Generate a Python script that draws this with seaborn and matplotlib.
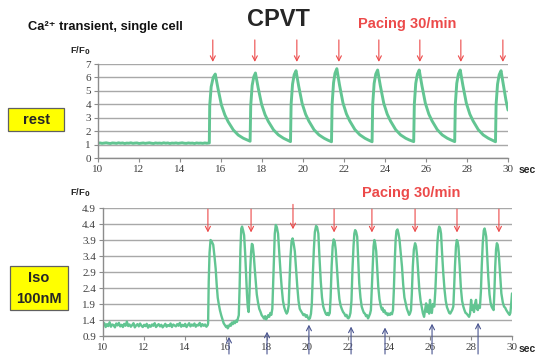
import numpy as np
import pandas as pd
import matplotlib
matplotlib.use("Agg")
import matplotlib.pyplot as plt
from matplotlib.patches import Rectangle
import seaborn as sns

# ---- data ----
# top panel (rest): baseline, then paced transients
top_base_v = [1.10, 1.12, 1.09, 1.11, 1.13, 1.10, 1.08, 1.12, 1.11, 1.09, 1.13, 1.10, 1.12, 1.08,
              1.11, 1.10, 1.13, 1.09, 1.11, 1.12, 1.08, 1.10, 1.12, 1.09, 1.11, 1.13, 1.10, 1.08,
              1.12, 1.10, 1.11, 1.09, 1.13, 1.10, 1.12, 1.08, 1.11, 1.10, 1.12, 1.09, 1.11, 1.13,
              1.10, 1.09, 1.12, 1.10, 1.11, 1.08, 1.12, 1.10, 1.11, 1.09, 1.12, 1.10, 1.11]
top_beats = [
    (15.43, 1.12), (15.45, 3.9), (15.52, 5.3), (15.62, 6.0), (15.72, 6.25), (15.85, 5.2),
    (16.02, 3.95), (16.19, 3.2), (16.35, 2.7), (16.6, 2.09), (16.84, 1.71), (17.09, 1.47),
    (17.27, 1.35), (17.42, 1.25),
    (17.45, 3.9), (17.52, 5.4), (17.6, 6.05), (17.68, 6.33), (17.81, 5.25), (17.98, 4.0),
    (18.15, 3.22), (18.31, 2.72), (18.56, 2.1), (18.8, 1.72), (19.05, 1.47), (19.23, 1.34),
    (19.39, 1.22),
    (19.42, 4.0), (19.49, 5.5), (19.57, 6.2), (19.66, 6.5), (19.79, 5.35), (19.96, 4.05),
    (20.13, 3.25), (20.29, 2.74), (20.54, 2.1), (20.78, 1.72), (21.03, 1.47), (21.21, 1.33),
    (21.39, 1.21),
    (21.42, 4.0), (21.49, 5.6), (21.56, 6.3), (21.65, 6.65), (21.78, 5.45), (21.95, 4.1),
    (22.12, 3.28), (22.28, 2.76), (22.53, 2.12), (22.77, 1.73), (23.02, 1.47), (23.2, 1.33),
    (23.37, 1.21),
    (23.4, 4.0), (23.47, 5.55), (23.55, 6.25), (23.64, 6.55), (23.77, 5.4), (23.94, 4.07),
    (24.11, 3.26), (24.27, 2.75), (24.52, 2.11), (24.76, 1.72), (25.01, 1.47), (25.19, 1.34),
    (25.4, 1.22),
    (25.43, 4.0), (25.5, 5.55), (25.58, 6.25), (25.67, 6.55), (25.8, 5.4), (25.97, 4.07),
    (26.14, 3.26), (26.3, 2.75), (26.55, 2.11), (26.79, 1.72), (27.04, 1.47), (27.22, 1.34),
    (27.4, 1.22),
    (27.43, 4.0), (27.5, 5.55), (27.58, 6.25), (27.67, 6.55), (27.8, 5.4), (27.97, 4.07),
    (28.14, 3.26), (28.3, 2.75), (28.55, 2.11), (28.79, 1.72), (29.04, 1.47), (29.22, 1.34),
    (29.39, 1.21),
    (29.42, 4.0), (29.49, 5.5), (29.57, 6.2), (29.66, 6.5), (29.79, 5.3), (29.9, 4.3),
    (30.0, 3.57),
]
top_pacing = [15.6, 17.65, 19.7, 21.75, 23.7, 25.7, 27.7, 29.75]

# bottom panel (Iso 100nM)
iso_base_v = [1.22, 1.30, 1.18, 1.27, 1.21, 1.33, 1.19, 1.26, 1.24, 1.17, 1.29, 1.23, 1.31, 1.20,
              1.25, 1.18, 1.28, 1.22, 1.35, 1.21, 1.26, 1.19, 1.24, 1.30, 1.17, 1.23, 1.27, 1.20,
              1.29, 1.22, 1.18, 1.25, 1.21, 1.28, 1.16, 1.24, 1.19, 1.26, 1.22, 1.30, 1.18, 1.23,
              1.27, 1.20, 1.25, 1.17, 1.22, 1.28, 1.19, 1.24, 1.21, 1.29, 1.18, 1.26, 1.23, 1.20,
              1.27, 1.22, 1.31, 1.19, 1.25, 1.21, 1.28, 1.18, 1.24, 1.30, 1.20, 1.26, 1.22, 1.29,
              1.19, 1.25, 1.23, 1.31, 1.20, 1.27, 1.22, 1.26, 1.19, 1.24]
iso_beats = [
    (15.14, 1.3), (15.17, 2.6), (15.21, 3.5), (15.26, 3.9), (15.32, 3.85), (15.39, 3.75),
    (15.45, 3.4), (15.51, 3.0), (15.56, 2.5), (15.61, 2.1), (15.66, 1.9), (15.72, 1.7),
    (15.78, 1.55), (15.84, 1.42), (15.9, 1.3), (15.96, 1.24), (16.02, 1.18), (16.07, 1.22),
    (16.1, 1.14), (16.15, 1.2), (16.2, 1.26), (16.25, 1.22), (16.3, 1.32), (16.35, 1.27),
    (16.4, 1.35), (16.45, 1.3), (16.5, 1.38), (16.55, 1.34), (16.6, 1.45), (16.64, 1.55),
    (16.68, 2.4), (16.72, 3.6), (16.76, 4.25), (16.8, 4.32), (16.85, 4.2), (16.9, 4.05),
    (16.95, 3.5), (17.0, 2.8), (17.04, 2.2), (17.08, 1.8), (17.12, 1.65), (17.16, 2.2),
    (17.2, 3.0), (17.24, 3.5), (17.28, 3.78), (17.32, 3.75), (17.37, 3.45), (17.42, 3.0),
    (17.47, 2.6), (17.52, 2.2), (17.58, 1.95), (17.64, 1.75), (17.7, 1.66), (17.76, 1.55),
    (17.82, 1.5), (17.88, 1.44), (17.93, 1.52), (17.98, 1.42), (18.03, 1.48), (18.08, 1.55),
    (18.13, 1.5), (18.18, 1.62), (18.23, 1.56), (18.28, 1.75), (18.32, 2.5), (18.36, 3.3),
    (18.4, 4.1), (18.45, 4.37), (18.5, 4.3), (18.56, 4.1), (18.62, 3.5), (18.68, 2.9),
    (18.74, 2.4), (18.8, 2.0), (18.86, 1.8), (18.92, 1.68), (18.98, 1.6), (19.03, 1.66),
    (19.08, 1.85), (19.12, 2.6), (19.17, 3.4), (19.22, 3.85), (19.27, 3.95), (19.32, 3.8),
    (19.38, 3.55), (19.44, 3.0), (19.5, 2.45), (19.56, 2.0), (19.62, 1.75), (19.68, 1.68),
    (19.74, 1.62), (19.8, 1.55), (19.86, 1.58), (19.92, 1.5), (19.97, 1.55), (20.02, 1.47),
    (20.07, 1.42), (20.12, 1.46), (20.17, 1.6), (20.21, 1.9), (20.26, 2.8), (20.31, 3.6),
    (20.36, 4.15), (20.42, 4.34), (20.47, 4.3), (20.53, 4.1), (20.59, 3.3), (20.65, 2.6),
    (20.71, 2.1), (20.77, 1.82), (20.83, 1.7), (20.89, 1.6), (20.94, 1.56), (20.99, 1.62),
    (21.04, 1.55), (21.09, 1.62), (21.13, 2.1), (21.18, 3.07), (21.23, 3.7), (21.28, 3.92),
    (21.33, 3.85), (21.38, 3.6), (21.44, 3.0), (21.5, 2.45), (21.56, 2.05), (21.62, 1.85),
    (21.68, 1.74), (21.74, 1.65), (21.8, 1.6), (21.86, 1.52), (21.91, 1.56), (21.96, 1.47),
    (22.0, 1.45), (22.05, 1.5), (22.1, 1.62), (22.15, 2.0), (22.2, 3.0), (22.25, 3.7),
    (22.29, 4.1), (22.33, 4.21), (22.38, 4.15), (22.43, 4.0), (22.48, 3.3), (22.53, 2.55),
    (22.59, 2.1), (22.65, 1.82), (22.7, 1.72), (22.76, 1.62), (22.81, 1.6), (22.86, 1.52),
    (22.91, 1.55), (22.96, 1.45), (23.01, 1.52), (23.06, 1.6), (23.1, 1.71), (23.14, 2.3),
    (23.19, 3.07), (23.23, 3.7), (23.27, 3.9), (23.31, 3.8), (23.36, 3.55), (23.41, 3.0),
    (23.46, 2.44), (23.52, 2.05), (23.59, 1.82), (23.64, 1.72), (23.67, 1.78), (23.72, 1.65),
    (23.77, 1.7), (23.82, 1.6), (23.87, 1.62), (23.92, 1.55), (23.97, 1.6), (24.03, 1.56),
    (24.08, 1.62), (24.13, 1.58), (24.18, 1.71), (24.22, 2.3), (24.27, 3.3), (24.31, 3.9),
    (24.35, 4.18), (24.4, 4.23), (24.45, 4.1), (24.5, 3.9), (24.56, 3.5), (24.62, 3.07),
    (24.68, 2.5), (24.74, 2.1), (24.8, 1.92), (24.86, 1.75), (24.92, 1.65), (24.97, 1.56),
    (25.02, 1.62), (25.06, 1.71), (25.1, 2.2), (25.15, 3.07), (25.2, 3.6), (25.26, 3.8),
    (25.31, 3.7), (25.36, 3.4), (25.42, 2.8), (25.47, 2.34), (25.53, 2.0), (25.58, 1.82),
    (25.64, 1.62), (25.7, 1.5), (25.75, 1.7), (25.8, 1.92), (25.85, 1.65), (25.9, 1.85),
    (25.95, 1.6), (25.99, 2.03), (26.03, 1.7), (26.08, 1.62), (26.13, 1.9), (26.2, 1.82),
    (26.25, 2.3), (26.3, 3.07), (26.35, 3.8), (26.4, 4.2), (26.44, 4.32), (26.49, 4.25),
    (26.53, 4.1), (26.58, 3.5), (26.64, 2.86), (26.7, 2.35), (26.76, 2.0), (26.82, 1.8),
    (26.88, 1.7), (26.93, 1.62), (26.98, 1.6), (27.03, 1.66), (27.08, 1.72), (27.13, 1.82),
    (27.17, 2.4), (27.21, 3.07), (27.26, 3.7), (27.3, 3.9), (27.34, 3.85), (27.38, 3.69),
    (27.44, 3.1), (27.5, 2.4), (27.56, 2.0), (27.62, 1.82), (27.68, 1.7), (27.73, 1.62),
    (27.78, 1.6), (27.84, 1.55), (27.9, 1.5), (27.95, 1.6), (28.0, 2.03), (28.05, 1.72),
    (28.09, 1.85), (28.14, 1.65), (28.19, 1.9), (28.24, 2.03), (28.28, 1.75), (28.33, 1.71),
    (28.38, 1.85), (28.43, 1.78), (28.48, 2.3), (28.52, 3.07), (28.57, 3.8), (28.62, 4.2),
    (28.66, 4.26), (28.7, 4.15), (28.74, 4.0), (28.79, 3.4), (28.84, 2.75), (28.9, 2.2),
    (28.95, 1.95), (29.0, 1.82), (29.05, 1.76), (29.1, 1.71), (29.14, 2.3), (29.18, 3.07),
    (29.22, 3.6), (29.26, 3.8), (29.3, 3.75), (29.35, 3.5), (29.42, 2.8), (29.48, 2.23),
    (29.55, 1.95), (29.61, 1.82), (29.67, 1.78), (29.72, 1.71), (29.78, 1.65), (29.83, 1.6),
    (29.88, 1.56), (29.92, 1.62), (29.96, 1.9), (30.0, 2.23),
]
iso_pacing = [15.13, 17.24, 19.29, 21.3, 23.15, 25.26, 27.31, 29.36]
iso_spont = [16.16, 18.02, 20.07, 22.13, 23.79, 26.09, 28.34]
iso_spont_tip = [0.96, 1.12, 1.34, 1.28, 1.25, 1.37, 1.40]

x_ticks = list(range(10, 31, 2))
top_yticks = [0, 1, 2, 3, 4, 5, 6, 7]
iso_yticks = [0.9, 1.4, 1.9, 2.4, 2.9, 3.4, 3.9, 4.4, 4.9]

# ---- build frames ----
top_df = pd.DataFrame({
    "t": list(np.linspace(10, 15.41, len(top_base_v))) + [p[0] for p in top_beats],
    "v": top_base_v + [p[1] for p in top_beats],
})
iso_df = pd.DataFrame({
    "t": list(np.linspace(10, 15.12, len(iso_base_v))) + [p[0] for p in iso_beats],
    "v": iso_base_v + [p[1] for p in iso_beats],
})

sns.set_style("white")
plt.rcParams["font.family"] = ["Liberation Sans", "DejaVu Sans"]

green = "#62c592"
red = "#ec4a4a"
navy = "#4a5590"
grid_c = "#a8a8a8"

fig = plt.figure(figsize=(5.35, 3.56), dpi=100)
ax_top = fig.add_axes([98 / 535, 1 - 158 / 356, 410 / 535, 94 / 356])
ax_iso = fig.add_axes([103 / 535, 1 - 336 / 356, 409 / 535, 128 / 356])

sns.lineplot(data=top_df, x="t", y="v", ax=ax_top, color=green, lw=2.1,
             estimator=None, sort=False)
sns.lineplot(data=iso_df, x="t", y="v", ax=ax_iso, color=green, lw=1.7,
             estimator=None, sort=False)

for ax, yt, ylim in [(ax_top, top_yticks, (0, 7)), (ax_iso, iso_yticks, (0.9, 4.9))]:
    ax.set_xlim(10, 30)
    ax.set_ylim(*ylim)
    ax.set_xticks(x_ticks)
    ax.set_yticks(yt)
    ax.set_yticklabels([f"{v:g}" for v in yt])
    ax.set_xlabel("")
    ax.set_ylabel("")
    ax.yaxis.grid(True, color=grid_c, lw=1.0)
    ax.xaxis.grid(False)
    for s in ["top", "right"]:
        ax.spines[s].set_visible(False)
    for s in ["left", "bottom"]:
        ax.spines[s].set_color("#8c8c8c")
        ax.spines[s].set_linewidth(1.0)
    ax.tick_params(axis="both", direction="out", length=3, width=0.8, color="#8c8c8c",
                   labelsize=8, labelcolor="#404040", pad=2, left=True, bottom=True)
    for lab in ax.get_xticklabels() + ax.get_yticklabels():
        lab.set_family("Liberation Serif")

# pacing / spontaneous arrows
for t in top_pacing:
    ax_top.annotate("", xy=(t, 6.95), xytext=(t, 9.0),
                    arrowprops=dict(arrowstyle="->,head_length=0.35,head_width=0.18",
                                    color=red, lw=0.8), annotation_clip=False)
for i, t in enumerate(iso_pacing):
    tail, tip = (5.1, 4.15) if i == 2 else (4.95, 4.05)
    ax_iso.annotate("", xy=(t, tip), xytext=(t, tail),
                    arrowprops=dict(arrowstyle="->,head_length=0.35,head_width=0.18",
                                    color=red, lw=0.8), annotation_clip=False)
for t, tip in zip(iso_spont, iso_spont_tip):
    ax_iso.annotate("", xy=(t, tip), xytext=(t, 0.25),
                    arrowprops=dict(arrowstyle="->,head_length=0.35,head_width=0.18",
                                    color=navy, lw=0.8), annotation_clip=False)

# texts
def fx(px):
    return px / 535

def fy(py):
    return 1 - py / 356

fig.text(fx(28), fy(27), "Ca²⁺ transient, single cell", fontsize=9.3, fontweight="bold",
         va="center", ha="left", color="#111111")
fig.text(fx(278), fy(20), "CPVT", fontsize=17, fontweight="bold", va="center", ha="center")
fig.text(fx(407), fy(24), "Pacing 30/min", fontsize=10.5, fontweight="bold", color=red,
         va="center", ha="center")
fig.text(fx(411), fy(193), "Pacing 30/min", fontsize=10.5, fontweight="bold", color=red,
         va="center", ha="center")
fig.text(fx(80), fy(51), "F/F$_\\mathbf{0}$", fontsize=6.8, fontweight="bold",
         va="center", ha="center")
fig.text(fx(80), fy(193), "F/F$_\\mathbf{0}$", fontsize=6.8, fontweight="bold",
         va="center", ha="center")
fig.text(fx(519), fy(170), "sec", fontsize=7.5, fontweight="bold", va="center", ha="left")
fig.text(fx(519), fy(349), "sec", fontsize=7.5, fontweight="bold", va="center", ha="left")

# yellow label boxes
for (x0, y0, x1, y1) in [(8, 108, 64, 131), (10, 266, 68, 310)]:
    fig.patches.append(Rectangle((fx(x0), fy(y1)), fx(x1) - fx(x0), fy(y0) - fy(y1),
                                 transform=fig.transFigure, facecolor="#ffff00",
                                 edgecolor="#606060", lw=0.9))
fig.text(fx(36), fy(120), "rest", fontsize=10.5, fontweight="bold", va="center", ha="center")
fig.text(fx(39), fy(278), "Iso", fontsize=10.5, fontweight="bold", va="center", ha="center")
fig.text(fx(39), fy(299), "100nM", fontsize=10.5, fontweight="bold", va="center", ha="center")

fig.savefig("out.png", dpi=100)
